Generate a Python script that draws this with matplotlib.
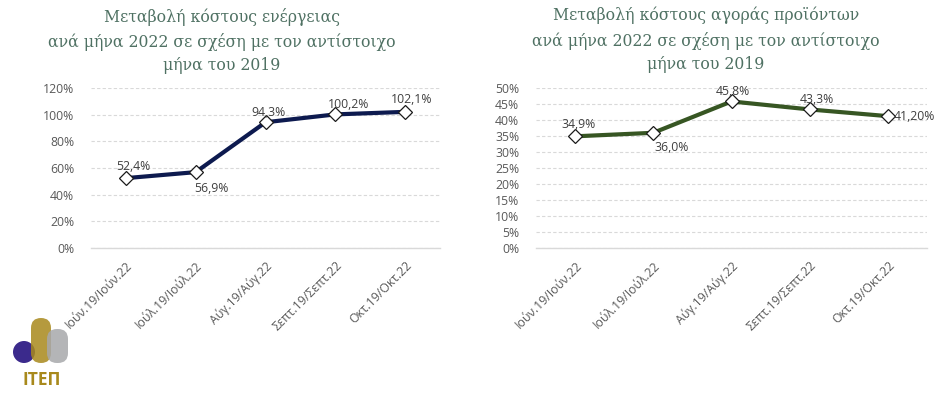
import matplotlib
matplotlib.use("Agg")
import matplotlib.pyplot as plt
from matplotlib.patches import FancyBboxPatch, Circle
from matplotlib.ticker import FuncFormatter, MultipleLocator

categories = ["Ιούν.19/Ιούν.22", "Ιούλ.19/Ιούλ.22", "Αύγ.19/Αύγ.22",
              "Σεπτ.19/Σεπτ.22", "Οκτ.19/Οκτ.22"]
energy_values = [52.4, 56.9, 94.3, 100.2, 102.1]
energy_labels = ["52,4%", "56,9%", "94,3%", "100,2%", "102,1%"]
products_values = [34.9, 36.0, 45.8, 43.3, 41.2]
products_labels = ["34,9%", "36,0%", "45,8%", "43,3%", "41,20%"]

title_left = "Μεταβολή κόστους ενέργειας\nανά μήνα 2022 σε σχέση με τον αντίστοιχο\nμήνα του 2019"
title_right = "Μεταβολή κόστους αγοράς προϊόντων\nανά μήνα 2022 σε σχέση με τον αντίστοιχο\nμήνα του 2019"

W, H = 948, 394
fig = plt.figure(figsize=(W / 100, H / 100), dpi=100)
fig.patch.set_facecolor("white")

sans = ["Open Sans", "DejaVu Sans"]
serif = ["DejaVu Serif"]
tick_color = "#595959"
title_color = "#4f7163"


def px_axes(x0, x1, y0, y1):
    return fig.add_axes([x0 / W, 1 - y1 / H, (x1 - x0) / W, (y1 - y0) / H])


def style(ax, ymax, step):
    ax.set_xlim(-0.5, len(categories) - 0.5)
    ax.set_ylim(0, ymax)
    ax.yaxis.set_major_locator(MultipleLocator(step))
    ax.yaxis.set_major_formatter(FuncFormatter(lambda v, p: f"{v:.0f}%"))
    ax.grid(axis="y", color="#d9d9d9", linestyle=(0, (3, 2)), linewidth=0.8)
    ax.set_axisbelow(True)
    for s in ["top", "right", "left"]:
        ax.spines[s].set_visible(False)
    ax.spines["bottom"].set_color("#d9d9d9")
    ax.spines["bottom"].set_linewidth(1.0)
    ax.tick_params(axis="both", length=0, colors=tick_color, labelsize=8.8)
    ax.tick_params(axis="y", pad=12)
    ax.set_xticks(range(len(categories)))
    ax.set_xticklabels(categories, rotation=45, ha="right", va="top",
                       rotation_mode="anchor", family=sans)
    ax.tick_params(axis="x", pad=8)
    for t in ax.get_yticklabels():
        t.set_family(sans)


# Left chart
ax1 = px_axes(91, 440, 88, 248)
style(ax1, 120, 20)
ax1.plot(range(len(categories)), energy_values, color="#0d1a4f", linewidth=3,
         marker="D", markersize=7, markerfacecolor="white",
         markeredgecolor="#1a1a1a", markeredgewidth=0.9, zorder=3)
offs1 = [(7, 12), (16, -16), (3, 10), (13, 10), (7, 12)]
for i, (v, lab) in enumerate(zip(energy_values, energy_labels)):
    ax1.annotate(lab, (i, v), xytext=offs1[i], textcoords="offset pixels",
                 ha="center", va="center", fontsize=8.8, color="#404040",
                 family=sans, zorder=4)
fig.text(222 / W, 1 - 41 / H, title_left, ha="center", va="center",
         fontsize=11.3, color=title_color, family=serif, linespacing=1.5)

# Right chart
ax2 = px_axes(536, 927, 88, 248)
style(ax2, 50, 5)
ax2.plot(range(len(categories)), products_values, color="#375623", linewidth=3,
         marker="D", markersize=7, markerfacecolor="white",
         markeredgecolor="#1a1a1a", markeredgewidth=0.9, zorder=3)
offs2 = [(3, 12), (18, -15), (1, 10), (7, 10), (6, 0)]
has2 = ["center", "center", "center", "center", "left"]
for i, (v, lab) in enumerate(zip(products_values, products_labels)):
    ax2.annotate(lab, (i, v), xytext=offs2[i], textcoords="offset pixels",
                 ha=has2[i], va="center", fontsize=8.8, color="#404040",
                 family=sans, zorder=4)
fig.text(706 / W, 1 - 40 / H, title_right, ha="center", va="center",
         fontsize=11.3, color=title_color, family=serif, linespacing=1.5)

# Logo
lax = fig.add_axes([0, 0, 1, 1], zorder=-1)
lax.set_xlim(0, W)
lax.set_ylim(H, 0)
lax.axis("off")
lax.add_patch(Circle((24, 352), 11, facecolor="#3b2a8c", edgecolor="none", alpha=1.0))
lax.add_patch(FancyBboxPatch((31, 318), 20, 45, boxstyle="round,pad=0,rounding_size=10",
                             facecolor="#a8891c", edgecolor="none", alpha=0.85))
lax.add_patch(FancyBboxPatch((47, 329), 21, 34, boxstyle="round,pad=0,rounding_size=10",
                             facecolor="#a7a8ab", edgecolor="none", alpha=0.85))
lax.text(42, 380, "ΙΤΕΠ", ha="center", va="center", fontsize=12.5, fontweight="bold",
         color="#a8891c", family=["Open Sans", "DejaVu Sans"])

fig.savefig("out.png", dpi=100, facecolor="white")
